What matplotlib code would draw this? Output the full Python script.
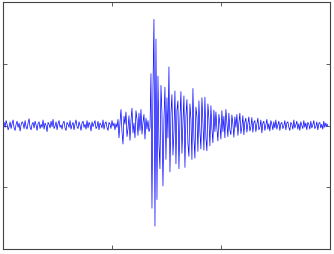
import numpy as np
import matplotlib
matplotlib.use('Agg')
import matplotlib.pyplot as plt

# trace amplitudes, split by phase of the record
pre_event = [
    0.05, -0.03, 0.08, 0.02, -0.07, -0.02, 0.06, -0.05, 0.03, 0.09,
    -0.04, -0.08, 0.02, 0.07, -0.03, 0.04, -0.09, 0.01, 0.06, 0.03,
    -0.05, 0.08, -0.02, -0.06, 0.04, 0.11, -0.03, -0.07, 0.02, 0.05,
    -0.04, 0.07, 0.01, -0.08, 0.03, 0.06, -0.05, 0.02, -0.03, 0.09,
    -0.06, 0.04, 0.00, -0.10, 0.05, 0.02, -0.04, 0.07, -0.02, 0.10,
    -0.05, -0.01, 0.06, -0.07, 0.03, 0.08, -0.03, 0.01, -0.06, 0.04,
    0.07, -0.04, -0.08, 0.05, 0.02, -0.03, 0.08, -0.06, 0.01, 0.05,
    -0.07, 0.03, 0.09, -0.02, -0.05, 0.06, 0.00, -0.08, 0.04, 0.07,
    -0.03, 0.02, -0.06, 0.08, -0.04, 0.05, 0.01, -0.09, 0.06, -0.02,
    0.03, 0.08, -0.05, -0.02, 0.07, -0.07, 0.04, 0.01, -0.04, 0.09,
    -0.06, 0.03, 0.06, -0.03, -0.08, 0.05, 0.02, -0.05, 0.08, -0.01,
    0.04, -0.07, 0.03, -0.03,
]
p_wave = [
    0.10, -0.20, 0.05, 0.26, -0.10, -0.30, 0.15, 0.02, 0.22, -0.18,
    -0.05, 0.16, -0.24, 0.08, 0.28, -0.12, 0.04, -0.20, 0.24, 0.10,
    -0.16, 0.20, -0.08, 0.26, -0.14, 0.05, 0.18, -0.22, 0.12, -0.06,
    0.08, -0.10, -0.04,
]
s_wave = [
    0.84, -1.34, 0.60, 1.72, -1.63, 1.40, -1.20, 0.80, -0.30, -0.70,
    0.65, 0.20, -0.98, 0.10, 0.62, -0.55, 0.45, -0.20, 0.95, -0.75,
    0.20, 0.50, -0.48, -0.10, 0.56, -0.62, 0.25, 0.40, -0.70, 0.10,
    0.55, -0.45, 0.05, 0.48, -0.68, 0.15, 0.42, -0.30, -0.50, 0.35,
    0.10, -0.55, 0.60, -0.20, -0.53, 0.30, 0.15, -0.42, 0.40, -0.10,
    -0.38, 0.45, 0.05, -0.40, 0.46, -0.20, -0.41, 0.35, 0.10, -0.33,
    0.32, -0.05, -0.28, 0.25, -0.10,
]
coda = [
    0.22, -0.05, -0.25, 0.18, 0.02, -0.22, 0.24, -0.10, 0.15, -0.20,
    0.26, 0.05, -0.18, 0.20, -0.08, -0.15, 0.17, 0.02, -0.19, 0.14,
    -0.03, 0.18, -0.16, 0.04, 0.20, -0.13, -0.02, 0.16, -0.15, 0.06,
    0.12, -0.11, 0.03, 0.14, -0.09, -0.02, 0.13, -0.11, 0.05, 0.08,
    -0.10, 0.02, 0.12, -0.07, -0.03, 0.09, -0.12, 0.04, 0.07, -0.08,
    0.01, 0.10, -0.06, 0.03, -0.09, 0.08, 0.02, -0.07, 0.06, -0.04,
    0.09, -0.06, 0.01, 0.07, -0.08, 0.03, 0.05, -0.05, -0.01, 0.08,
    -0.07, 0.04, 0.06, -0.03, -0.08, 0.05, 0.02, -0.06, 0.09, -0.04,
    0.01, 0.07, -0.06, 0.03, -0.08, 0.06, 0.00, -0.05, 0.08, -0.03,
    0.04, -0.07, 0.05, 0.02, -0.06, 0.07, -0.04, 0.01, 0.08, -0.05,
    -0.02, 0.06, -0.07, 0.03, 0.05, -0.04, 0.02, -0.06, 0.07, -0.03,
    0.04, -0.02, 0.02,
]
t_start, t_end = 0.01, 2.98

amp = np.array(pre_event + p_wave + s_wave + coda)
t = np.linspace(t_start, t_end, len(amp))

fig = plt.figure(figsize=(3.34, 2.55), dpi=100)
ax = fig.add_axes([3/334, 5/255, 327/334, 247/255])
ax.plot(t, amp, color='#0000ff', lw=0.5)

ax.set_xlim(0, 3)
ax.set_ylim(-2, 2)
ax.set_xticks([1, 2])
ax.set_yticks([-1, 0, 1])
ax.tick_params(direction='in', length=3, width=0.6, color='#444444',
               top=True, right=True, labelbottom=False, labelleft=False)
for s in ax.spines.values():
    s.set_color('#444444')
    s.set_linewidth(0.8)

fig.savefig('out.png', dpi=100)
